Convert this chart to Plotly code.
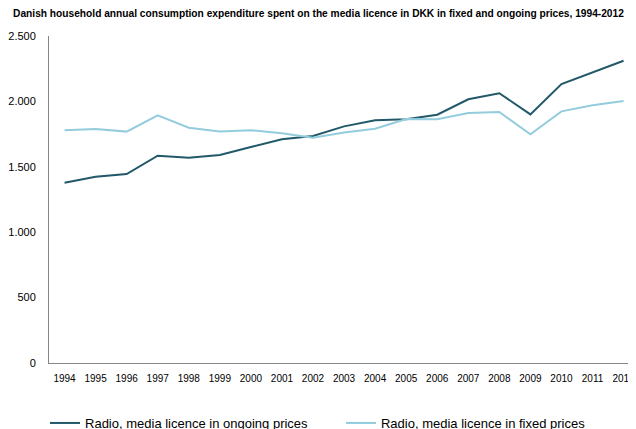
import plotly.graph_objects as go

years = [str(y) for y in range(1994, 2013)]
ongoing = [1378, 1424, 1445, 1585, 1570, 1590, 1651, 1710, 1735, 1809, 1855, 1863, 1898, 2016, 2062, 1901, 2133, 2222, 2311]
fixed = [1779, 1789, 1769, 1893, 1799, 1769, 1779, 1756, 1722, 1763, 1791, 1865, 1863, 1911, 1919, 1748, 1924, 1970, 2003]
y_ticks = [0, 500, 1000, 1500, 2000, 2500]

FONT = "Liberation Sans, Arial, sans-serif"

fig = go.Figure()
fig.add_trace(go.Scatter(x=years, y=ongoing, mode="lines",
                         name="Radio, media licence in ongoing prices",
                         line=dict(color="#215968", width=2), legend="legend"))
fig.add_trace(go.Scatter(x=years, y=fixed, mode="lines",
                         name="Radio, media licence in fixed prices",
                         line=dict(color="#93CDDD", width=2), legend="legend2"))

leg_common = dict(orientation="h", xanchor="left", yanchor="middle", y=-0.1835,
                  font=dict(size=13), itemwidth=30, bgcolor="rgba(0,0,0,0)",
                  borderwidth=0)

fig.update_layout(
    width=628, height=421,
    margin=dict(l=41, r=0, t=28, b=66, autoexpand=False),
    paper_bgcolor="white", plot_bgcolor="white",
    separators=",.",
    font=dict(family=FONT, color="#000000"),
    title=dict(text="<b>Danish household annual consumption expenditure spent on the media licence in DKK in fixed and ongoing prices, 1994-2012</b>",
               x=0.4944, xref="container", xanchor="center", y=1 - 5 / 421, yref="container", yanchor="middle",
               font=dict(size=10.2, family=FONT, color="#000000")),
    xaxis=dict(type="category", range=[-0.5, 18.4], showgrid=False, showline=True,
               linecolor="#868686", linewidth=1, ticks="", tickfont=dict(size=10),
               ticklabelstandoff=6, automargin=False, ticklabeloverflow="allow"),
    yaxis=dict(range=[0, 2500], tickvals=y_ticks, tickformat=",", showgrid=False,
               showline=True, linecolor="#868686", linewidth=1, ticks="",
               tickfont=dict(size=11), ticklabelstandoff=10, zeroline=False,
               automargin=False),
    legend=dict(x=-0.0068, **leg_common),
    legend2=dict(x=0.4974, **leg_common),
    showlegend=True,
)

fig.write_html("out.html")
